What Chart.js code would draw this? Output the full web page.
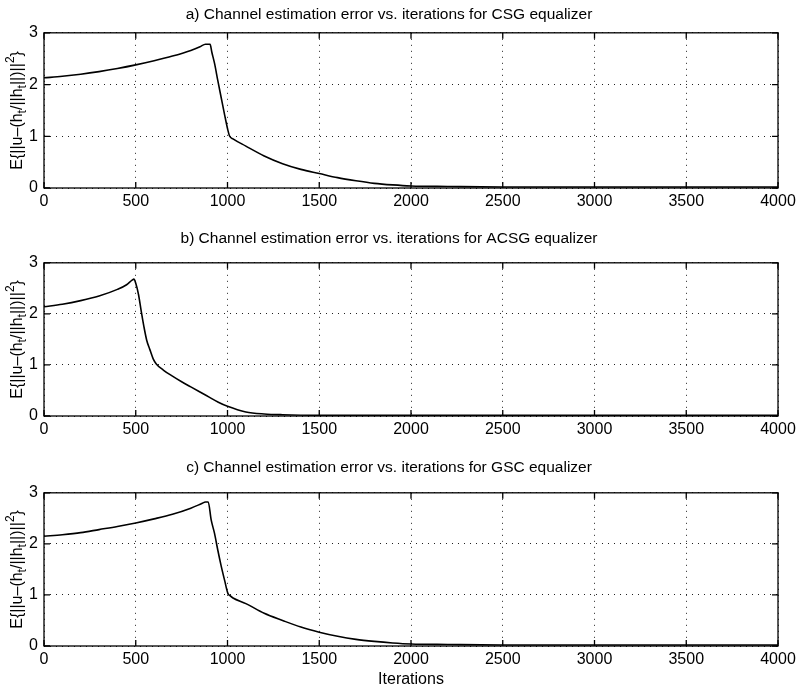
<!DOCTYPE html>
<html>
<head>
<meta charset="utf-8">
<script src="https://cdn.jsdelivr.net/npm/chart.js@4/dist/chart.umd.min.js"></script>
<style>
  body { margin: 0; background: #fff; }
  #wrap { position: relative; width: 797px; height: 688px; }
  .pane { position: absolute; left: 0; width: 797px; }
</style>
</head>
<body>
<div id="wrap">
  <div class="pane" style="top:0;height:224px"><canvas id="csg"></canvas></div>
  <div class="pane" style="top:224px;height:229px"><canvas id="acsg"></canvas></div>
  <div class="pane" style="top:453px;height:235px"><canvas id="gsc"></canvas></div>
</div>
<script>
// ticks
const xTicks = [0, 500, 1000, 1500, 2000, 2500, 3000, 3500, 4000];
const yTicks = [0, 1, 2, 3];

// a) CSG
const csgIter = [0, 100, 200, 300, 400, 500, 600, 700, 800, 850, 880, 905, 915, 930, 947, 966, 984, 1002, 1012, 1030, 1100, 1200, 1300, 1400, 1500, 1600, 1700, 1800, 1900, 2000, 2200, 2500, 3000, 3500, 4000];
const csgErr  = [2.13, 2.16, 2.20, 2.25, 2.31, 2.38, 2.46, 2.55, 2.66, 2.73, 2.78, 2.78, 2.62, 2.40, 2.08, 1.74, 1.42, 1.12, 1.00, 0.95, 0.81, 0.62, 0.47, 0.36, 0.28, 0.20, 0.14, 0.09, 0.06, 0.04, 0.03, 0.02, 0.02, 0.02, 0.02];

// b) ACSG
const acsgIter = [0, 100, 200, 300, 400, 450, 480, 490, 500, 515, 530, 545, 560, 577, 595, 612, 650, 700, 750, 800, 850, 900, 950, 1000, 1100, 1200, 1300, 1500, 2000, 2500, 3000, 3500, 4000];
const acsgErr  = [2.14, 2.19, 2.26, 2.35, 2.48, 2.57, 2.66, 2.68, 2.60, 2.38, 2.05, 1.74, 1.48, 1.30, 1.12, 1.02, 0.90, 0.78, 0.67, 0.57, 0.47, 0.37, 0.27, 0.19, 0.08, 0.04, 0.025, 0.015, 0.015, 0.015, 0.015, 0.015, 0.015];

// c) GSC
const gscIter = [0, 100, 200, 300, 400, 500, 600, 700, 800, 860, 880, 895, 911, 929, 947, 966, 984, 1002, 1012, 1030, 1100, 1200, 1300, 1400, 1500, 1600, 1700, 1800, 1900, 2000, 2200, 2500, 3000, 3500, 4000];
const gscErr  = [2.15, 2.18, 2.22, 2.28, 2.34, 2.41, 2.49, 2.58, 2.70, 2.79, 2.82, 2.82, 2.47, 2.21, 1.88, 1.56, 1.29, 1.03, 0.99, 0.94, 0.83, 0.64, 0.50, 0.37, 0.27, 0.19, 0.13, 0.09, 0.06, 0.04, 0.03, 0.02, 0.02, 0.02, 0.02];

const FONT = '"Liberation Sans", Arial, Helvetica, sans-serif';
Chart.defaults.font.family = FONT;
Chart.defaults.color = '#000';

// solid box + inward tick marks, matlab style
const framePlugin = {
  id: 'frame',
  afterDatasetsDraw(chart) {
    const { ctx, chartArea: a, scales: { x, y } } = chart;
    ctx.save();
    ctx.strokeStyle = '#000';
    ctx.lineWidth = 1.3;
    ctx.strokeRect(a.left, a.top, a.right - a.left, a.bottom - a.top);
    ctx.beginPath();
    x.ticks.forEach(t => {
      const px = x.getPixelForValue(t.value);
      ctx.moveTo(px, a.bottom); ctx.lineTo(px, a.bottom - 6);
      ctx.moveTo(px, a.top); ctx.lineTo(px, a.top + 6);
    });
    y.ticks.forEach(t => {
      const py = y.getPixelForValue(t.value);
      ctx.moveTo(a.left, py); ctx.lineTo(a.left + 6, py);
      ctx.moveTo(a.right, py); ctx.lineTo(a.right - 6, py);
    });
    ctx.stroke();
    ctx.restore();
  }
};

// y label with sub/superscripts
const yLabelPlugin = {
  id: 'ylabel',
  afterDraw(chart) {
    const { ctx, chartArea: a } = chart;
    const parts = [['E{||u–(h', 0], ['t', 1], ['/||h', 0], ['t', 1], ['||)||', 0], ['2', -1], ['}', 0]];
    const big = `16px ${FONT}`, small = `12px ${FONT}`;
    ctx.save();
    let total = 0;
    parts.forEach(([s, k]) => { ctx.font = k ? small : big; total += ctx.measureText(s).width; });
    ctx.translate(22, (a.top + a.bottom) / 2);
    ctx.rotate(-Math.PI / 2);
    ctx.fillStyle = '#000';
    ctx.textBaseline = 'alphabetic';
    let cx = -total / 2;
    parts.forEach(([s, k]) => {
      ctx.font = k ? small : big;
      ctx.fillText(s, cx, k === 1 ? 4 : k === -1 ? -8 : 0);
      cx += ctx.measureText(s).width;
    });
    ctx.restore();
  }
};

function makePanel(id, title, iters, errs, titlePad, axisHeight, xTitle) {
  return new Chart(document.getElementById(id), {
    type: 'line',
    data: {
      datasets: [{
        data: iters.map((it, i) => ({ x: it, y: errs[i] })),
        borderColor: '#000',
        borderWidth: 1.6,
        pointRadius: 0,
        cubicInterpolationMode: 'monotone',
        fill: false,
      }],
    },
    options: {
      responsive: true, maintainAspectRatio: false, animation: false,
      layout: { padding: { left: 0, right: 19, top: 0, bottom: 0 } },
      plugins: {
        legend: { display: false },
        tooltip: { enabled: false },
        title: {
          display: true, text: title, color: '#000',
          font: { size: 15.5, weight: 'normal', lineHeight: 1.15 },
          padding: titlePad,
        },
      },
      scales: {
        x: {
          type: 'linear', min: 0, max: 4000,
          afterBuildTicks: s => { s.ticks = xTicks.map(v => ({ value: v })); },
          afterFit: s => { s.height = axisHeight; s.paddingRight = 0; s.paddingLeft = 0; },
          ticks: { font: { size: 16 }, padding: 4, maxRotation: 0, callback: v => String(v) },
          grid: { color: '#222', lineWidth: 1, drawTicks: false },
          border: { display: false, dash: [1, 5] },
          title: xTitle ? { display: true, text: xTitle, font: { size: 16, lineHeight: 1 }, padding: 0 } : { display: false },
        },
        y: {
          min: 0, max: 3,
          afterBuildTicks: s => { s.ticks = yTicks.map(v => ({ value: v })); },
          afterFit: s => { s.width = 44; },
          ticks: { font: { size: 16 }, padding: 6, callback: v => String(v) },
          grid: { color: '#222', lineWidth: 1, drawTicks: false },
          border: { display: false, dash: [1, 5] },
        },
      },
    },
    plugins: [framePlugin, yLabelPlugin],
  });
}

makePanel('csg', 'a) Channel estimation error vs. iterations for CSG equalizer', csgIter, csgErr, { top: 6, bottom: 9 }, 36);
makePanel('acsg', 'b) Channel estimation error vs. iterations for ACSG equalizer', acsgIter, acsgErr, { top: 6, bottom: 15 }, 37);
makePanel('gsc', 'c) Channel estimation error vs. iterations for GSC equalizer', gscIter, gscErr, { top: 6, bottom: 16 }, 42, 'Iterations');
</script>
</body>
</html>
